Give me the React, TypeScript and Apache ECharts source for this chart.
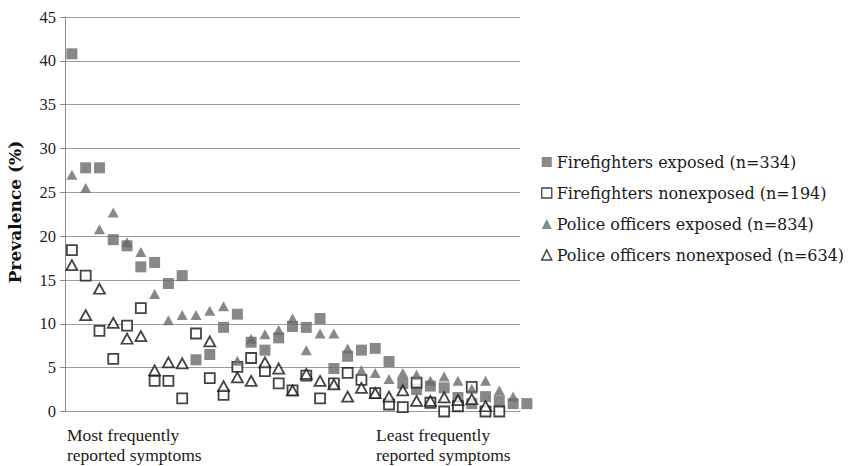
import React, { useEffect, useRef } from "react";
import * as echarts from "echarts";

// Symptom rank (1 = most frequently reported)
const firefightersExposed = [40.8, 27.8, 27.8, 19.6, 18.9, 16.5, 17.0, 14.6, 15.5, 5.9, 6.5, 9.6, 11.1, 7.9, 7.0, 8.4, 9.7, 9.6, 10.6, 4.9, 6.3, 7.0, 7.2, 5.7, 3.2, 2.5, 2.9, 2.7, 1.6, 0.9, 1.7, 1.2, 0.9, 0.9];
const firefightersNonexposed = [18.4, 15.5, 9.2, 6.0, 9.8, 11.8, 3.5, 3.5, 1.5, 8.9, 3.8, 1.9, 5.1, 6.1, 4.6, 3.2, 2.4, 4.1, 1.5, 3.2, 4.4, 3.6, 2.1, 0.8, 0.5, 3.3, 1.0, 0.0, 0.6, 2.8, 0.0, 0.0, null];
const policeExposed = [27.0, 25.5, 20.8, 22.7, 19.3, 18.2, 13.4, 10.4, 11.0, 11.0, 11.5, 12.0, 5.8, 8.3, 8.8, 9.3, 10.6, 7.0, 8.9, 8.9, 7.2, 4.7, 4.4, 3.7, 4.4, 4.2, 3.5, 4.0, 3.5, 2.6, 3.5, 2.4, 1.7];
const policeNonexposed = [16.7, 11.0, 14.0, 10.1, 8.3, 8.6, 4.7, 5.6, 5.5, null, 8.0, 2.9, 3.9, 3.5, 5.6, 4.9, 2.4, 4.3, 3.5, 3.1, 1.7, 2.7, 2.1, 1.7, 2.4, 1.2, 1.2, 1.6, 1.3, 1.4, 0.6, null, null];

const seriesNames = [
  "Firefighters exposed (n=334)",
  "Firefighters nonexposed (n=194)",
  "Police officers exposed (n=834)",
  "Police officers nonexposed (n=634)",
];
const yTicks = { min: 0, max: 45, interval: 5 };
const xLabelLeft = "Most frequently\nreported symptoms";
const xLabelRight = "Least frequently\nreported symptoms";
const yName = "Prevalence (%)";

const toPoints = (arr: (number | null)[]) =>
  arr.map((v, i) => (v == null ? null : [i + 1, v])).filter((p) => p !== null);

const GREY = "#6a6a6a";
const INK = "#151515";
const filled = { color: GREY, borderWidth: 0 };
const open = { color: "#ffffff", borderColor: INK, borderWidth: 1.8 };

export default function App() {
  const ref = useRef<HTMLDivElement>(null);
  useEffect(() => {
    if (!ref.current) return;
    const chart = echarts.init(ref.current, null, { renderer: "svg" });
    chart.setOption({
      animation: false,
      backgroundColor: "#ffffff",
      grid: { left: 65, top: 17, width: 455, height: 394.5, containLabel: false },
      xAxis: {
        type: "value",
        min: 0.5,
        max: 33.5,
        axisLine: { show: true, lineStyle: { color: "#9a9a9a", width: 1 } },
        axisTick: { show: false },
        axisLabel: { show: false },
        splitLine: { show: false },
      },
      yAxis: {
        type: "value",
        min: yTicks.min,
        max: yTicks.max,
        interval: yTicks.interval,
        axisLine: { show: true, lineStyle: { color: "#8a8a8a", width: 1 } },
        axisTick: { show: true, inside: false, length: 5, lineStyle: { color: "#8a8a8a" } },
        axisLabel: {
          fontFamily: "Liberation Serif",
          fontSize: 16.5,
          color: "#222",
          margin: 9,
        },
        splitLine: { show: true, lineStyle: { color: "#9c9c9c", width: 1 } },
      },
      legend: {
        orient: "vertical",
        left: 536,
        top: 147,
        itemWidth: 10,
        itemHeight: 10,
        itemGap: 11,
        textStyle: {
          fontFamily: "DejaVu Serif",
          fontSize: 16,
          color: "#1a1a1a",
          lineHeight: 20,
        },
        data: [
          { name: seriesNames[0], icon: "rect", itemStyle: filled },
          { name: seriesNames[1], icon: "rect", itemStyle: { ...open, borderWidth: 1.3 } },
          { name: seriesNames[2], icon: "triangle", itemStyle: filled },
          { name: seriesNames[3], icon: "triangle", itemStyle: { ...open, borderWidth: 1.5 } },
        ],
      },
      graphic: [
        {
          type: "text",
          x: 15,
          y: 212,
          rotation: Math.PI / 2,
          style: {
            text: yName,
            fontFamily: "DejaVu Serif",
            fontWeight: "bold",
            fontSize: 17,
            fill: "#111",
            textAlign: "center",
            textVerticalAlign: "middle",
          },
        },
        {
          type: "text",
          x: 67,
          y: 425,
          style: {
            text: xLabelLeft,
            fontFamily: "Liberation Serif",
            fontSize: 17.5,
            lineHeight: 20,
            fill: "#1a1a1a",
            textAlign: "left",
            textVerticalAlign: "top",
          },
        },
        {
          type: "text",
          x: 376,
          y: 425,
          style: {
            text: xLabelRight,
            fontFamily: "Liberation Serif",
            fontSize: 17.5,
            lineHeight: 20,
            fill: "#1a1a1a",
            textAlign: "left",
            textVerticalAlign: "top",
          },
        },
      ],
      series: [
        {
          name: seriesNames[0],
          type: "scatter",
          symbol: "rect",
          symbolSize: 11,
          clip: false,
          itemStyle: filled,
          data: toPoints(firefightersExposed),
        },
        {
          name: seriesNames[1],
          type: "scatter",
          symbol: "rect",
          symbolSize: 10,
          clip: false,
          itemStyle: open,
          data: toPoints(firefightersNonexposed),
        },
        {
          name: seriesNames[2],
          type: "scatter",
          symbol: "triangle",
          symbolSize: [11, 10],
          clip: false,
          itemStyle: filled,
          data: toPoints(policeExposed),
        },
        {
          name: seriesNames[3],
          type: "scatter",
          symbol: "triangle",
          symbolSize: [11, 10],
          clip: false,
          itemStyle: open,
          data: toPoints(policeNonexposed),
        },
      ],
    });
    return () => chart.dispose();
  }, []);
  return (
    <div
      ref={ref}
      style={{ position: "fixed", left: 0, top: 0, width: 850, height: 466 }}
    />
  );
}
